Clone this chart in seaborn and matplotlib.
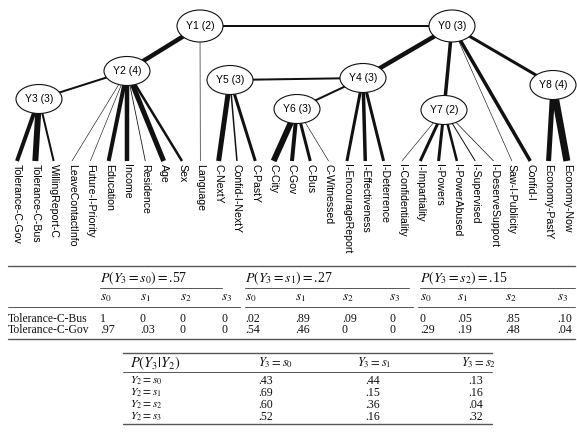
import matplotlib
matplotlib.use("Agg")
import matplotlib.pyplot as plt
from matplotlib.patches import Ellipse
import seaborn as sns

# latent variables and number of states
nodes = ["Y0", "Y1", "Y2", "Y3", "Y4", "Y5", "Y6", "Y7", "Y8"]
cards = [3, 2, 4, 3, 3, 3, 3, 2, 4]

# links between latent variables, with link strength
latent_edges = [("Y1", "Y0"), ("Y1", "Y2"), ("Y2", "Y3"), ("Y5", "Y4"),
                ("Y0", "Y4"), ("Y4", "Y6"), ("Y0", "Y7"), ("Y0", "Y8")]
latent_strength = [2, 4.5, 2, 2, 4.5, 2, 3.5, 3]

# manifest variables, their parent and link strength
leaves = ["Tolerance-C-Gov", "Tolerance-C-Bus", "WillingReport-C", "LeaveContactInfo",
          "Future-I-Priority", "Education", "Income", "Residence", "Age", "Sex",
          "Language", "C-NextY", "Confid-I-NextY", "C-PastY", "C-City", "C-Gov",
          "C-Bus", "C-Witnessed", "I-EncourageReport", "I-Effectiveness",
          "I-Deterrence", "I-Confidentiality", "I-Impartiality", "I-Powers",
          "I-PowerAbused", "I-Supervised", "I-DeserveSupport", "Saw-I-Publicity",
          "Confid-I", "Economy-PastY", "Economy-Now"]
leaf_parent = ["Y3", "Y3", "Y3", "Y2", "Y2", "Y2", "Y2", "Y2", "Y2", "Y2",
               "Y1", "Y5", "Y5", "Y5", "Y6", "Y6", "Y6", "Y6", "Y4", "Y4",
               "Y4", "Y7", "Y7", "Y7", "Y7", "Y7", "Y7", "Y0", "Y0", "Y8", "Y8"]
leaf_strength = [4, 6, 2, 0.6, 0.6, 4, 4.5, 0.8, 5, 2.5,
                 0.6, 5, 1.5, 3, 6, 4, 3, 0.6, 3, 3.5,
                 3, 0.6, 3, 3, 2.5, 1, 0.7, 0.6, 3.5, 5, 7]

# table 1: P(manifest | Y3)
tab1_rows = ["Tolerance-C-Bus", "Tolerance-C-Gov"]
tab1_prior = [".57", ".27", ".15"]
tab1_states = ["s_0", "s_1", "s_2", "s_3"]
tab1_bus = ["1", "0", "0", "0", ".02", ".89", ".09", "0", "0", ".05", ".85", ".10"]
tab1_gov = [".97", ".03", "0", "0", ".54", ".46", "0", "0", ".29", ".19", ".48", ".04"]

# table 2: P(Y3 | Y2)
tab2_cols = ["s_0", "s_1", "s_2"]
tab2_rows = ["s_0", "s_1", "s_2", "s_3"]
tab2_vals = [[".43", ".44", ".13"],
             [".69", ".15", ".16"],
             [".60", ".36", ".04"],
             [".52", ".16", ".32"]]

# layout (pixel coordinates)
node_pos = {"Y0": (452, 26), "Y1": (200, 26), "Y2": (127, 71), "Y3": (39, 99),
            "Y4": (363, 78), "Y5": (230, 80), "Y6": (297, 109), "Y7": (444, 110),
            "Y8": (553, 85)}
leaf_x0, leaf_dx, leaf_y = 17, 18.33, 161

sns.set_theme(style="white")
plt.rcParams["font.family"] = ["Liberation Sans", "DejaVu Sans"]
plt.rcParams["mathtext.fontset"] = "stix"

fig = plt.figure(figsize=(5.77, 4.43), dpi=100)
ax = fig.add_axes([0, 0, 1, 1])
ax.set_xlim(0, 577)
ax.set_ylim(443, 0)
ax.axis("off")

px = 0.72  # pixels -> points
ink = "#111111"

# edges
for (a, b), w in zip(latent_edges, latent_strength):
    (x1, y1), (x2, y2) = node_pos[a], node_pos[b]
    ax.plot([x1, x2], [y1, y2], color=ink, lw=w * px, solid_capstyle="butt", zorder=1)

for i, (name, par, w) in enumerate(zip(leaves, leaf_parent, leaf_strength)):
    lx = leaf_x0 + i * leaf_dx
    x1, y1 = node_pos[par]
    ax.plot([x1, lx], [y1, leaf_y], color=ink, lw=w * px, solid_capstyle="butt", zorder=1)
    ax.text(lx, leaf_y + 3, name, rotation=-90, ha="center", va="top",
            fontsize=7.6, color="black")

# latent nodes
for n, c in zip(nodes, cards):
    x, y = node_pos[n]
    h = 32 if n in ("Y0", "Y1") else 29
    ax.add_patch(Ellipse((x, y), 46, h, facecolor="white", edgecolor=ink, lw=0.8, zorder=3))
    ax.text(x, y, f"{n} ({c})", ha="center", va="center", fontsize=7.5,
            color="black", zorder=4)

# table 1
serif = ["Liberation Serif", "DejaVu Serif"]
rule = "#555555"
ax.plot([8, 575], [266, 266], color=rule, lw=1.0)
ax.plot([8, 575], [339, 339], color=rule, lw=1.0)
grp_x = [100, 245, 420]
grp_end = [222, 409, 575]
sub_x = [[100, 140, 180, 221], [245, 295, 342, 389], [420, 457, 505, 557]]
for g in range(3):
    ax.text(grp_x[g], 278, rf"$P(Y_3=s_{g})=$" + tab1_prior[g], fontsize=10,
            ha="left", va="center", family=serif, color=ink)
    ax.plot([grp_x[g], grp_end[g]], [288, 288], color=rule, lw=0.7)
    for k in range(4):
        ax.text(sub_x[g][k], 298, f"${tab1_states[k]}$", fontsize=9.5,
                ha="left", va="center", color=ink)
        ax.text(sub_x[g][k], 319, tab1_bus[g * 4 + k], fontsize=8.6,
                ha="left", va="center", family=serif, color=ink)
        ax.text(sub_x[g][k], 330, tab1_gov[g * 4 + k], fontsize=8.6,
                ha="left", va="center", family=serif, color=ink)
for xa, xb in [(8, 240), (245, 413), (418, 575)]:
    ax.plot([xa, xb], [307, 307], color=rule, lw=0.7)
for j, r in enumerate(tab1_rows):
    ax.text(8, 319 + j * 11, r, fontsize=8.4, ha="left", va="center",
            family=serif, color=ink)

# table 2
ax.plot([123, 492], [353, 353], color=rule, lw=1.0)
ax.plot([123, 492], [372, 372], color=rule, lw=0.7)
ax.plot([123, 492], [424, 424], color=rule, lw=1.0)
ax.text(130, 363, r"$P(Y_3|Y_2)$", fontsize=10.5, ha="left", va="center", color=ink)
col_x = [258, 357, 461]
val_x = [258, 365, 468]
for k, c in enumerate(tab2_cols):
    ax.text(col_x[k], 363, f"$Y_3={c}$", fontsize=9, ha="left", va="center", color=ink)
for j, r in enumerate(tab2_rows):
    y = 381 + j * 12
    ax.text(130, y, f"$Y_2={r}$", fontsize=8.3, ha="left", va="center", color=ink)
    for k in range(3):
        ax.text(val_x[k], y, tab2_vals[j][k], fontsize=8.6, ha="left", va="center",
                family=serif, color=ink)

fig.savefig("out.png", dpi=100)
